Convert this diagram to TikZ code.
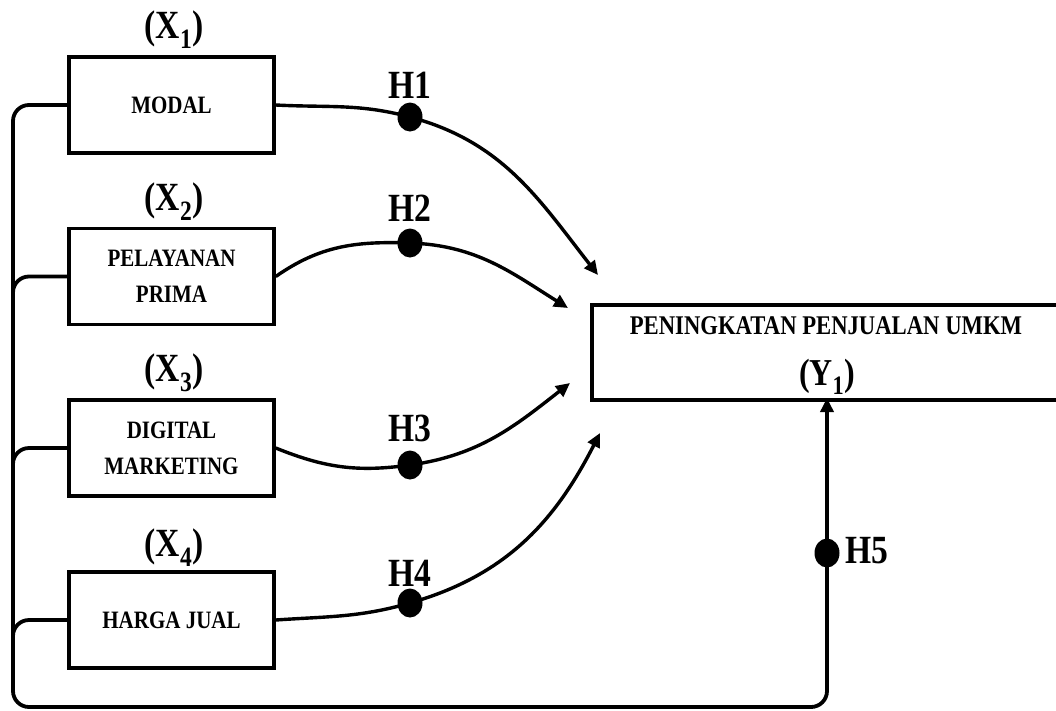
\documentclass[tikz,border=0pt]{standalone}
\usepackage{fontspec}
\setmainfont{Liberation Serif}[FakeStretch=0.84]
\usetikzlibrary{arrows.meta,shapes.geometric}
\begin{document}
\begin{tikzpicture}[x=1pt,y=-1pt,
  line width=3.4pt,
  varbox/.style={draw,line width=3.5pt,minimum width=205pt,minimum height=96pt,inner sep=0pt,align=center,
    font=\bfseries\fontsize{25}{36}\selectfont},
  xlabel/.style={inner sep=0pt,font=\bfseries\fontsize{40}{40}\selectfont},
  hlabel/.style={inner sep=0pt,font=\bfseries\fontsize{40}{40}\selectfont},
  hdot/.style={ellipse,fill=black,draw=none,minimum width=25pt,minimum height=29pt,inner sep=0pt},
  arr/.style={-{Triangle[length=14pt,width=13pt]},line width=3.4pt},
  bus/.style={line width=3.8pt,rounded corners=16pt}
]
\useasboundingbox (0,0) rectangle (1056,710);

% variable boxes
\node[varbox] (b1) at (171.5,105) {MODAL};
\node[varbox] (b2) at (171.5,276.5) {PELAYANAN\\PRIMA};
\node[varbox] (b3) at (171.5,448) {DIGITAL\\MARKETING};
\node[varbox] (b4) at (171.5,620) {HARGA JUAL};

\node[xlabel] (lx1) at (174,30) {(X\textsubscript{1})};
\node[xlabel] (lx2) at (174,202) {(X\textsubscript{2})};
\node[xlabel] (lx3) at (174,373) {(X\textsubscript{3})};
\node[xlabel] (lx4) at (174,548) {(X\textsubscript{4})};

% dependent box
\node[draw,line width=3.5pt,minimum width=480pt,minimum height=95pt,anchor=north west,inner sep=0pt] (Y) at (590,303) {};
\node[inner sep=0pt,font=\bfseries\fontsize{27}{27}\selectfont] (ytext) at (826,326) {PENINGKATAN PENJUALAN UMKM};
\node[xlabel,font=\bfseries\fontsize{38}{38}\selectfont] (ylab) at (827,377) {(Y\textsubscript{1})};

% hypothesis dots
\node[hdot] (d1) at (410,117) {};
\node[hdot] (d2) at (410,243) {};
\node[hdot] (d3) at (410,465) {};
\node[hdot] (d4) at (410,603) {};
\node[hdot] (d5) at (827,553) {};

\node[hlabel] (h1) at (410,85) {H1};
\node[hlabel] (h2) at (410,208) {H2};
\node[hlabel] (h3) at (410,428) {H3};
\node[hlabel] (h4) at (410,573) {H4};
\node[hlabel,anchor=west] (h5) at (844,551) {H5};

% arrow end points
\coordinate (t1) at (598,275);
\coordinate (t2) at (568,308);
\coordinate (t3) at (570,383);
\coordinate (t4) at (600,433);
\coordinate (t5) at (827,398);

% curved paths
\draw[arr] (b1.east) to[out=-3,in=165] (d1.center) to[out=-15,in=128] (t1);
\draw[arr] (b2.east) to[out=35,in=178] (d2.center) to[out=-2,in=148] (t2);
\draw[arr] (b3.east) to[out=-22,in=188] (d3.center) to[out=8,in=218] (t3);
\draw[arr] (b4.east) to[out=4,in=196] (d4.center) to[out=16,in=243] (t4);

% bus line on the left and bottom
\coordinate (c1) at (13,105);
\coordinate (c4) at (13,707);
\coordinate (c5) at (827,707);
\draw[bus,-{Triangle[length=14pt,width=13pt]}] (b1.west) -- (c1) -- (c4) -- (c5) -- (t5);
\coordinate (c2) at (13,276.5);
\coordinate (c2b) at (13,320);
\coordinate (c3) at (13,448);
\coordinate (c3b) at (13,490);
\coordinate (c6) at (13,620);
\coordinate (c6b) at (13,660);
\draw[bus] (b2.west) -- (c2) -- (c2b);
\draw[bus] (b3.west) -- (c3) -- (c3b);
\draw[bus] (b4.west) -- (c6) -- (c6b);
\end{tikzpicture}
\end{document}
